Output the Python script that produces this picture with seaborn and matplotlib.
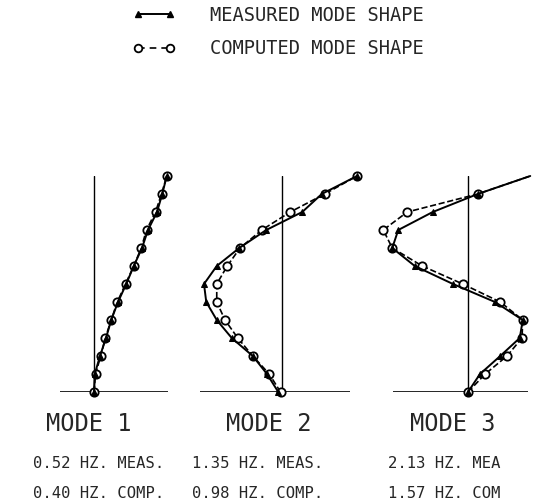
import numpy as np
import pandas as pd
import matplotlib.pyplot as plt
from matplotlib.lines import Line2D
import seaborn as sns

# storey levels, base (0) to roof (12)
levels = [0, 1, 2, 3, 4, 5, 6, 7, 8, 9, 10, 11, 12]

# normalised mode shape amplitudes
mode1_meas = [0.00, 0.01, 0.08, 0.16, 0.23, 0.32, 0.43, 0.53, 0.64, 0.72, 0.84, 0.91, 0.97]
mode1_comp = [0.00, 0.02, 0.09, 0.15, 0.23, 0.31, 0.42, 0.53, 0.63, 0.70, 0.82, 0.90, 0.97]
mode2_meas = [-0.05, -0.20, -0.39, -0.67, -0.87, -1.01, -1.04, -0.87, -0.57, -0.21, 0.27, 0.53, 1.00]
mode2_comp = [-0.02, -0.17, -0.39, -0.59, -0.76, -0.87, -0.87, -0.73, -0.56, -0.27, 0.11, 0.57, 1.00]
mode3_meas = [0.00, 0.16, 0.43, 0.69, 0.73, 0.36, -0.20, -0.71, -1.01, -0.93, -0.47, 0.13, 0.83]
mode3_comp = [0.00, 0.23, 0.52, 0.72, 0.73, 0.43, -0.07, -0.61, -1.01, -1.13, -0.81, 0.13, 0.83]

mode_titles = ["MODE 1", "MODE 2", "MODE 3"]
freq_meas = ["0.52 HZ. MEAS.", "1.35 HZ. MEAS.", "2.13 HZ. MEA"]
freq_comp = ["0.40 HZ. COMP.", "0.98 HZ. COMP.", "1.57 HZ. COM"]

sns.set_style("white")
plt.rcParams["font.family"] = ["DejaVu Sans Mono"]

W, H = 541, 503
fig = plt.figure(figsize=(W / 100, H / 100), dpi=100)

# panel extents in pixels: (left, right, centre line)
panels = [(60, 168, 94), (200, 350, 282), (393, 528, 468)]
scale = 75.0  # px per unit amplitude
y0, y1 = 392, 176

meas_all = [mode1_meas, mode2_meas, mode3_meas]
comp_all = [mode1_comp, mode2_comp, mode3_comp]

for i, (left, right, centre) in enumerate(panels):
    ax = fig.add_axes([left / W, (H - y0) / H, (right - left) / W, (y0 - y1) / H])
    df = pd.DataFrame({"level": levels, "meas": meas_all[i], "comp": comp_all[i]})
    mk = list(range(12)) if i == 2 else None
    sns.lineplot(data=df, x="comp", y="level", sort=False, orient="y", estimator=None,
                 ax=ax, color="black", lw=1.2, dashes=(6, 3), linestyle="--",
                 marker="o", ms=6, mfc="white", mec="black", mew=1.3,
                 markevery=mk, clip_on=False)
    sns.lineplot(data=df, x="meas", y="level", sort=False, orient="y", estimator=None,
                 ax=ax, color="black", lw=1.4, marker="^", ms=5, mec="black",
                 markevery=mk, clip_on=False)
    ax.set_xlim((left - centre) / scale, (right - centre) / scale)
    ax.set_ylim(0, 12)
    ax.axvline(0, color="black", lw=1.0, zorder=0)
    ax.axhline(0, color="black", lw=1.2, zorder=0)
    ax.axis("off")

# legend at top
handles = [
    Line2D([], [], color="black", lw=1.4, marker="^", ms=5),
    Line2D([], [], color="black", lw=1.2, ls=(0, (4, 3)), marker="o", ms=5.5, mfc="white", mew=1.3),
]
fig.legend(handles, ["MEASURED MODE SHAPE", "COMPUTED MODE SHAPE"],
           loc="upper left", bbox_to_anchor=(132 / W, 1 - 6 / H), frameon=False,
           numpoints=2, handlelength=2.3, handletextpad=1.85, labelspacing=0.75,
           borderpad=0, borderaxespad=0, prop={"size": 13.5})

# mode labels and frequencies
title_x = [89, 269, 453]
col_x = [33, 192, 388]
for i in range(3):
    fig.text(title_x[i] / W, 1 - 424 / H, mode_titles[i], ha="center", va="center", fontsize=17)
    fig.text(col_x[i] / W, 1 - 463 / H, freq_meas[i], ha="left", va="center", fontsize=11.2)
    fig.text(col_x[i] / W, 1 - 494 / H, freq_comp[i], ha="left", va="center", fontsize=11.2)

fig.savefig("out.png", dpi=100, facecolor="white")
